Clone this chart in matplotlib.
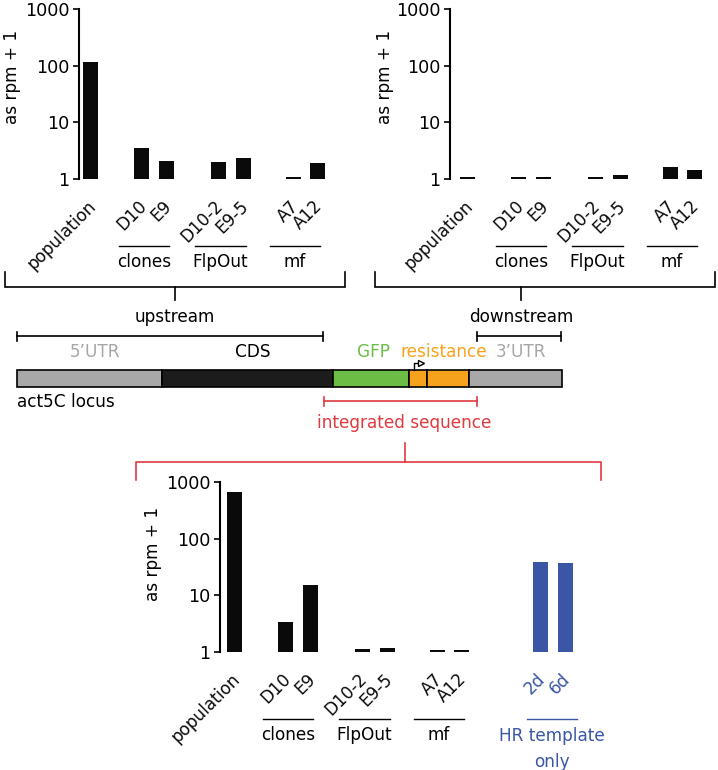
import numpy as np
import matplotlib.pyplot as plt
from matplotlib.patches import Rectangle
from matplotlib.transforms import blended_transform_factory, ScaledTranslation

plt.rcParams['font.family'] = ['DejaVu Sans']
plt.rcParams['font.size'] = 12.2

W, H = 718, 770
UNIT = 25.0  # px per bar slot

# data
samples = ['population', 'D10', 'E9', 'D10-2', 'E9-5', 'A7', 'A12']
hr_samples = ['2d', '6d']
upstream = [115, 3.5, 2.1, 2.0, 2.35, 1.1, 1.9]
downstream = [1.08, 1.08, 1.08, 1.08, 1.18, 1.63, 1.44]
integrated = [665, 3.4, 15.2, 1.14, 1.2, 1.08, 1.08]
hr_template = [39, 36.5]
positions = [0, 2.05, 3.05, 5.1, 6.12, 8.12, 9.08]
hr_positions = [12.22, 13.24]
groups = [('clones', 1, 2), ('FlpOut', 3, 4), ('mf', 5, 6)]

# locus diagram
locus_edges = [17, 162, 333, 409, 427, 469, 562]
locus_colors = ['#a8a8a8', '#1c1c1c', '#6bbd45', '#f7a21c', '#f7a21c', '#a8a8a8']
feature_names = ['5’UTR', 'CDS', 'GFP', 'resistance', '3’UTR']
feature_x = [95, 253, 373, 444, 521]
feature_colors = ['#a6a6a6', 'black', '#6bbd45', '#f7a21c', '#a6a6a6']

BLACK = '#0a0a0a'
BLUE = '#3a56a5'
RED = '#e0393e'

fig = plt.figure(figsize=(W / 100, H / 100), dpi=100)


def px_axes(left, top, width, height):
    return fig.add_axes([left / W, 1 - (top + height) / H, width / W, height / H])


def bar_panel(spine_x, top, first_x, width, pos, values, labels, colors):
    ax = px_axes(spine_x, top, width, 170)
    x0 = -(first_x - spine_x) / UNIT
    ax.set_xlim(x0, x0 + width / UNIT)
    ax.set_yscale('log')
    ax.set_ylim(1, 1000)
    vals = np.asarray(values, float)
    ax.bar(pos, vals - 1, bottom=1, width=0.6, color=colors)
    for s in ['top', 'right', 'bottom']:
        ax.spines[s].set_visible(False)
    ax.spines['left'].set_linewidth(1.5)
    ax.set_yticks([1, 10, 100, 1000], ['1', '10', '100', '1000'])
    ax.minorticks_off()
    ax.tick_params(axis='y', length=4.5, width=1.2, pad=2.5, labelsize=12.7)
    ax.set_xticks(pos, labels, rotation=45, ha='right', va='top',
                  rotation_mode='anchor')
    ax.tick_params(axis='x', length=0, pad=13)
    shift = ScaledTranslation(-4 / 100, 0, fig.dpi_scale_trans)
    for lbl, c in zip(ax.get_xticklabels(), colors):
        lbl.set_color(c)
        lbl.set_transform(lbl.get_transform() + shift)
    ax.patch.set_alpha(0)
    trans = blended_transform_factory(ax.transData, ax.transAxes)
    for name, i, j in groups:
        xa, xb = pos[i] - 0.93, pos[j] + 0.1
        ax.plot([xa, xb], [-0.397, -0.397], color='black', lw=1,
                transform=trans, clip_on=False)
        ax.text((xa + xb) / 2, -0.49, name, ha='center', va='center',
                transform=trans)
    return ax, trans


def bracket_up(x0, x1, y, tip, xc, stem, color='black'):
    ov.plot([x0, x0, x1, x1], [y - tip, y, y, y - tip], color=color, lw=1.2,
            solid_joinstyle='miter')
    ov.plot([xc, xc], [y, y + stem], color=color, lw=1.2)


def span(x0, x1, y, color='black'):
    ov.plot([x0, x1], [y, y], color=color, lw=1.2)
    ov.plot([x0, x0], [y - 4.5, y + 4.5], color=color, lw=1.2)
    ov.plot([x1, x1], [y - 4.5, y + 4.5], color=color, lw=1.2)


ov = fig.add_axes([0, 0, 1, 1])
ov.set_xlim(0, W)
ov.set_ylim(H, 0)
ov.axis('off')

# top panels
bar_panel(79, 9, 90.5, 270, positions, upstream, samples, [BLACK] * 7)
bar_panel(450, 9, 467.5, 265, positions, downstream, samples, [BLACK] * 7)

# bottom panel
ax3, tr3 = bar_panel(220, 482, 234.5, 370, positions + hr_positions,
                     integrated + hr_template, samples + hr_samples,
                     [BLACK] * 7 + [BLUE] * 2)
xa, xb = hr_positions[0] - 0.52, hr_positions[1] + 0.46
ax3.plot([xa, xb], [-0.397, -0.397], color=BLUE, lw=1, transform=tr3,
         clip_on=False)
ax3.text((xa + xb) / 2, -0.44, 'HR template\nonly', ha='center', va='top',
         color=BLUE, linespacing=1.6, transform=tr3)

# y labels
for x, y in [(12, 77), (385, 77), (153, 554)]:
    ov.text(x, y, 'as rpm + 1', rotation=90, ha='center', va='center')

# brackets under top panels
bracket_up(5, 345, 287, 15, 175, 13)
bracket_up(375, 715, 287, 15, 521, 13)
ov.text(175, 317, 'upstream', ha='center', va='center')
ov.text(521, 317, 'downstream', ha='center', va='center')

# spans over locus
span(17, 323, 336)
span(477, 561, 336)
span(324, 477, 401, color=RED)

for name, x, c in zip(feature_names, feature_x, feature_colors):
    ov.text(x, 352, name, ha='center', va='center', color=c)

for i, c in enumerate(locus_colors):
    ov.add_patch(Rectangle((locus_edges[i], 370), locus_edges[i + 1] - locus_edges[i],
                           17, facecolor=c, edgecolor='black', lw=1.2))

# promoter arrow
ov.plot([414, 414, 419], [370, 363, 363], color='black', lw=1)
ov.plot([421], [363], marker='>', ms=4.5, mfc='white', mec='black', mew=1)

ov.text(17, 402, 'act5C locus', ha='left', va='center')
ov.text(404, 423, 'integrated sequence', ha='center', va='center', color=RED)

# red bracket over bottom panel
ov.plot([136, 136, 601, 601], [480, 462, 462, 480], color=RED, lw=1.2)
ov.plot([405, 405], [462, 443], color=RED, lw=1.2)

fig.savefig('out.png', dpi=100)
